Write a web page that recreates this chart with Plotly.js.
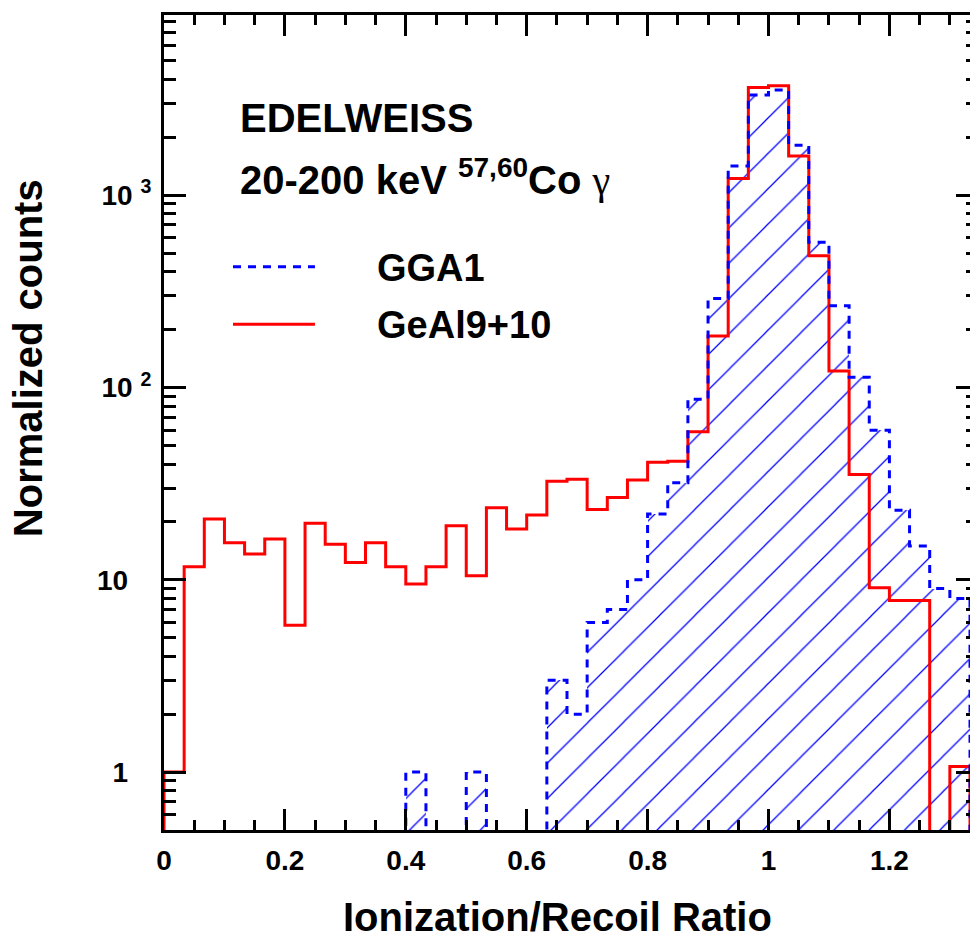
<!DOCTYPE html>
<html><head><meta charset="utf-8">
<script src="https://cdn.plot.ly/plotly-3.0.1.min.js"></script>
<style>html,body{margin:0;padding:0;background:#fff;} #chart{width:972px;height:938px;}</style>
</head><body><div id="chart"></div>
<script>
// Histogram binning (Ionization/Recoil ratio), 40 bins from 0 to 4/3
const BIN_WIDTH = 1 / 30;
const N_BINS = 40;

// GGA1 (blue, dashed, hatched) normalized counts per bin
const gga1 = [0,0,0,0,0,0,0,0,0,0,
              0,0,1,0,0,1,0,0,0,3,
              2,6,7,10,22,32,87,290,1420,3320,
              3520,1820,570,266,113,60,23,15,9,8];
// GeAl9+10 (red, solid) normalized counts per bin
const geal = [1,11.7,20.7,15.6,13.6,16.3,5.8,19.7,15.3,12.3,
              15.6,11.7,9.5,11.7,19.1,10.5,23.7,18.4,21.7,32.5,
              33.3,23.2,26.8,33.0,40.8,41.4,58.9,185,1222,3634,
              3707,1597,484,122,35.3,9.1,7.8,7.8,0,1.07];

const yTickVals = [1, 10, 100, 1000];
const yTickText = ['1&nbsp;&nbsp;&nbsp;', '10&nbsp;&nbsp;&nbsp;', '10 <sup>2</sup>', '10 <sup>3</sup>'];
const xTitle = 'Ionization/Recoil Ratio';
const yTitle = 'Normalized counts';
const label1 = 'EDELWEISS';
const label2 = '20-200 keV <sup>57,60</sup>Co <span style="font-family:\'Liberation Serif\';font-weight:normal">γ</span>';
const seriesNames = ['GGA1', 'GeAl9+10'];

const FONT = '"Liberation Sans", Arial, Helvetica, sans-serif';
const BLUE = '#0000ff', RED = '#ff0000';
const FLOOR = 1e-3; // empty bins drawn below the visible range

function centers() { const c = []; for (let i = 0; i < N_BINS; i++) c.push((i + 0.5) * BIN_WIDTH); return c; }
function outline(vals) {
  const xs = [0], ys = [FLOOR];
  for (let i = 0; i < N_BINS; i++) {
    const v = vals[i] > 0 ? vals[i] : FLOOR;
    xs.push(i * BIN_WIDTH, (i + 1) * BIN_WIDTH);
    ys.push(v, v);
  }
  xs.push(N_BINS * BIN_WIDTH); ys.push(FLOOR);
  return {xs, ys};
}
const minorVals = [];
for (let d = -1; d <= 3; d++) for (let m = 2; m <= 9; m++) minorVals.push(m * Math.pow(10, d));

const bo = outline(gga1), ro = outline(geal);
const traces = [
  {type:'bar', x:centers(), y:gga1.map(v => v > 0 ? v : null), width:BIN_WIDTH,
   marker:{color:'rgba(0,0,0,0)', line:{width:0},
           pattern:{shape:'/', fgcolor:BLUE, fgopacity:1, bgcolor:'rgba(0,0,0,0)', size:25, solidity:0.05, fillmode:'overlay'}},
   hoverinfo:'skip', xaxis:'x', yaxis:'y'},
  {type:'scatter', mode:'lines', x:ro.xs, y:ro.ys, line:{color:RED, width:3}, name:seriesNames[1], xaxis:'x', yaxis:'y'},
  {type:'scatter', mode:'lines', x:bo.xs, y:bo.ys, line:{color:BLUE, width:3, dash:'8px,7px'}, name:seriesNames[0], xaxis:'x', yaxis:'y2'}
];

const TXT = (size, extra) => Object.assign({family:FONT, size:size, color:'#000', weight:700}, extra || {});
const yRange = [Math.log10(0.5), 3.937];
const layout = {
  width:972, height:938,
  margin:{l:164, r:2, t:15, b:108},
  paper_bgcolor:'#fff', plot_bgcolor:'#fff',
  showlegend:false, bargap:0,
  font:TXT(28),
  xaxis:{range:[0, N_BINS * BIN_WIDTH], tick0:0, dtick:0.2, ticks:'inside', ticklen:21, tickwidth:3, tickcolor:'#000',
         showline:true, linewidth:3, linecolor:'#000', mirror:'ticks', showgrid:false, zeroline:false,
         minor:{tick0:0, dtick:0.05, ticks:'inside', ticklen:10, tickwidth:3, tickcolor:'#000', showgrid:false},
         tickfont:TXT(28), ticklabelstandoff:3},
  yaxis:{type:'log', range:yRange, autorange:false, tickmode:'array', tickvals:yTickVals, ticktext:yTickText,
         ticks:'inside', ticklen:22, tickwidth:3, tickcolor:'#000', showline:true, linewidth:3, linecolor:'#000',
         showgrid:false, zeroline:false,
         minor:{tickmode:'array', tickvals:minorVals, ticks:'inside', ticklen:12, tickwidth:3, tickcolor:'#000', showgrid:false},
         tickfont:TXT(28), ticklabelstandoff:4},
  yaxis2:{type:'log', overlaying:'y', side:'right', range:yRange, autorange:false, tickmode:'array', tickvals:yTickVals,
          ticks:'inside', ticklen:14, tickwidth:3, tickcolor:'#000', showline:false, showticklabels:false,
          showgrid:false, zeroline:false,
          minor:{tickmode:'array', tickvals:minorVals, ticks:'inside', ticklen:4, tickwidth:3, tickcolor:'#000', showgrid:false}},
  shapes:[
    {type:'line', xref:'paper', yref:'paper', x0:0.0856, x1:0.1873, y0:0.6912, y1:0.6912, line:{color:BLUE, width:3, dash:'8px,7px'}},
    {type:'line', xref:'paper', yref:'paper', x0:0.0856, x1:0.1873, y0:0.6205, y1:0.6205, line:{color:RED, width:3}}
  ],
  annotations:[
    {xref:'paper', yref:'paper', x:0.0918, y:0.8736, xanchor:'left', yanchor:'middle', align:'left', showarrow:false, text:label1, font:TXT(40)},
    {xref:'paper', yref:'paper', x:0.0918, y:0.800, xanchor:'left', yanchor:'middle', align:'left', showarrow:false, text:label2, font:TXT(40)},
    {xref:'paper', yref:'paper', x:0.2618, y:0.6896, xanchor:'left', yanchor:'middle', align:'left', showarrow:false, text:seriesNames[0], font:TXT(38)},
    {xref:'paper', yref:'paper', x:0.2618, y:0.6196, xanchor:'left', yanchor:'middle', align:'left', showarrow:false, text:seriesNames[1], font:TXT(38)},
    {xref:'paper', yref:'paper', x:0.4882, y:-0.1067, xanchor:'center', yanchor:'middle', showarrow:false, text:xTitle, font:TXT(40)},
    {xref:'paper', yref:'paper', x:-0.1687, y:0.579, xanchor:'center', yanchor:'middle', textangle:-90, showarrow:false, text:yTitle, font:TXT(40)}
  ]
};
Plotly.newPlot('chart', traces, layout, {displayModeBar:false, staticPlot:true});
</script></body></html>
